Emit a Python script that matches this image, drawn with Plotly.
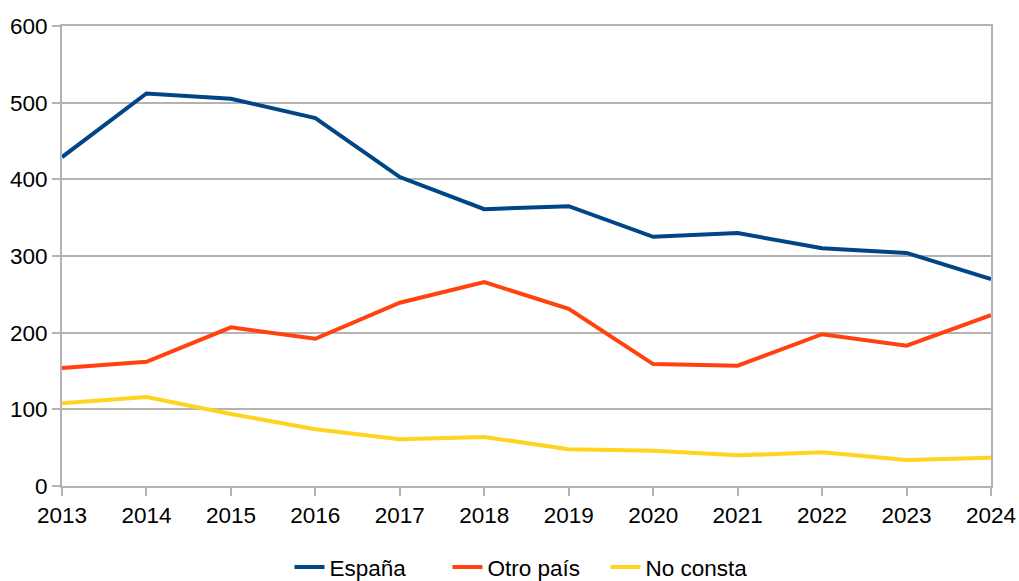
import plotly.graph_objects as go

years = [2013, 2014, 2015, 2016, 2017, 2018, 2019, 2020, 2021, 2022, 2023, 2024]
espana = [429, 512, 505, 480, 403, 361, 365, 325, 330, 310, 304, 270]
otro_pais = [154, 162, 207, 192, 239, 266, 231, 159, 157, 198, 183, 223]
no_consta = [108, 116, 94, 74, 61, 64, 48, 46, 40, 44, 34, 37]

series = [
    ("España", espana, "#004586"),
    ("Otro país", otro_pais, "#ff420e"),
    ("No consta", no_consta, "#ffd320"),
]

fig = go.Figure()
for name, vals, color in series:
    fig.add_trace(go.Scatter(x=years, y=vals, name=name, mode="lines",
                             line=dict(color=color, width=4)))

grid = "#b3b3b3"
fig.update_layout(
    width=1019, height=581,
    margin=dict(l=62, r=28, t=26, b=95, autoexpand=False),
    plot_bgcolor="white", paper_bgcolor="white",
    font=dict(family="Liberation Sans, Arial, sans-serif", size=22.5, color="#000000"),
    showlegend=True,
    legend=dict(orientation="h", x=0.50, xanchor="center", y=-0.177, yanchor="middle",
                font=dict(size=22.5), tracegroupgap=0, bgcolor="rgba(0,0,0,0)",
                entrywidth=113, entrywidthmode="pixels"),
)
fig.update_xaxes(range=[2013, 2024], tickmode="array", tickvals=years,
                 ticktext=[str(y) for y in years],
                 showgrid=False, showline=True, linecolor=grid, linewidth=2,
                 mirror=True, ticks="outside", ticklen=8, tickcolor=grid, tickwidth=2,
                 zeroline=False, automargin=False)
fig.update_yaxes(range=[0, 600], dtick=100, showgrid=True, gridcolor=grid, gridwidth=2,
                 showline=True, linecolor=grid, linewidth=2, mirror=True,
                 ticks="outside", ticklen=8, tickcolor=grid, tickwidth=2,
                 zeroline=False, automargin=False)

fig.write_html("out.html", config={"displayModeBar": False},
               post_script="document.body.style.margin='0';document.body.style.overflow='hidden';")
